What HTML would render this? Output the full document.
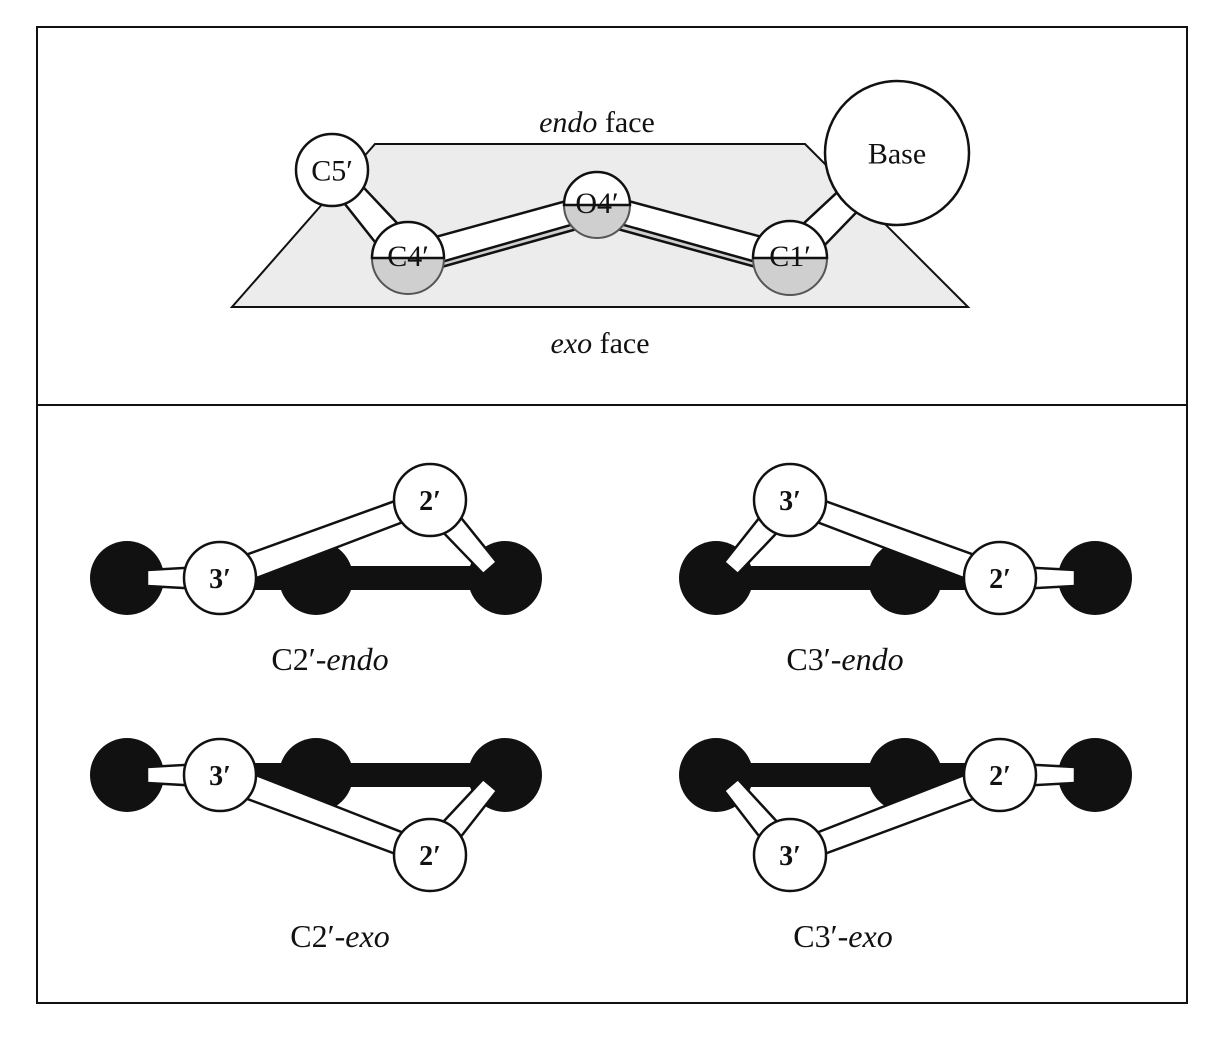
<!DOCTYPE html>
<html><head><meta charset="utf-8"><style>
html,body{margin:0;padding:0;background:#fff}
svg{display:block}
text{font-family:"Liberation Serif",serif;fill:#111}
</style></head><body>
<svg id="s" width="1215" height="1041" viewBox="0 0 1215 1041">
<rect x="37" y="27" width="1150" height="976" fill="#fff" stroke="#111" stroke-width="2"/>
<line x1="37" y1="405" x2="1187" y2="405" stroke="#111" stroke-width="2"/>
<polygon points="375,144 805,144 968,307 232,307" fill="#ececec" stroke="#111" stroke-width="2"/>
<text x="597" y="132" font-size="30" text-anchor="middle"><tspan font-style="italic">endo</tspan> face</text>
<text x="600" y="353" font-size="30" text-anchor="middle"><tspan font-style="italic">exo</tspan> face</text>
<g id="top"></g>
<g id="bottom"></g>
<text x="330" y="670" font-size="32" text-anchor="middle">C2′-<tspan font-style="italic">endo</tspan></text>
<text x="845" y="670" font-size="32" text-anchor="middle">C3′-<tspan font-style="italic">endo</tspan></text>
<text x="340" y="947" font-size="32" text-anchor="middle">C2′-<tspan font-style="italic">exo</tspan></text>
<text x="843" y="947" font-size="32" text-anchor="middle">C3′-<tspan font-style="italic">exo</tspan></text>
</svg>
<script>
const NS='http://www.w3.org/2000/svg';
function mk(tag,attrs,parent){const e=document.createElementNS(NS,tag);for(const k in attrs)e.setAttribute(k,attrs[k]);parent.appendChild(e);return e;}
function bond(p,a,b,wa,wb,fill,name){
  const dx=b[0]-a[0],dy=b[1]-a[1],L=Math.hypot(dx,dy),nx=-dy/L,ny=dx/L;
  const pts=[[a[0]+nx*wa,a[1]+ny*wa],[b[0]+nx*wb,b[1]+ny*wb],[b[0]-nx*wb,b[1]-ny*wb],[a[0]-nx*wa,a[1]-ny*wa]];
  const e=mk('polygon',{points:pts.map(q=>q.join(',')).join(' '),fill:fill,stroke:'#111','stroke-width':2.5},p);
  
  
}
function atom(p,c,r,fill,label,fs,bold,name){
  const e=mk('circle',{cx:c[0],cy:c[1],r:r,fill:fill,stroke:'#111','stroke-width':2.5},p);
  
  
  if(label){const t=mk('text',{x:c[0],y:c[1]+fs*0.35,'font-size':fs,'text-anchor':'middle','font-weight':bold?'bold':'normal'},p);t.textContent=label;
  
  }
}
function halfAtom(p,c,r,label,name){
  const g=mk('g',{},p);
  
  
  mk('path',{d:`M${c[0]-r},${c[1]} A${r},${r} 0 0 0 ${c[0]+r},${c[1]} Z`,fill:'#cfcfcf',stroke:'#555','stroke-width':2},g);
  mk('path',{d:`M${c[0]-r},${c[1]} A${r},${r} 0 0 1 ${c[0]+r},${c[1]} Z`,fill:'#fff',stroke:'#111','stroke-width':2.5},g);
  const t=mk('text',{x:c[0],y:c[1]+8,'font-size':30,'text-anchor':'middle'},g);t.textContent=label;
}
const T=document.getElementById('top');
const C5=[332,170],C4=[408,258],O4=[597,205],C1=[790,258],B=[897,153];
bond(T,[C4[0],C4[1]+8],[O4[0],O4[1]+8],10,10,'#cfcfcf','c4-o4-bond-shadow');
bond(T,[O4[0],O4[1]+8],[C1[0],C1[1]+8],10,10,'#cfcfcf','o4-c1-bond-shadow');
bond(T,C5,C4,11,16,'#fff','c5-c4-bond');
bond(T,C4,O4,13,12,'#fff','c4-o4-bond');
bond(T,O4,C1,12,13,'#fff','o4-c1-bond');
bond(T,B,C1,12,16,'#fff','base-c1-bond');
atom(T,C5,36,'#fff','C5′',30,false,'c5-atom');
halfAtom(T,O4,33,'O4′','o4-atom');
halfAtom(T,C4,36,'C4′','c4-atom');
halfAtom(T,C1,37,'C1′','c1-atom');
atom(T,B,72,'#fff','Base',30,false,'base-atom');
const BT=document.getElementById('bottom');
const panels=[
 {n:'c2-endo',k:[[127,578],[316,578],[505,578]],three:[220,578],two:[430,500],mode:'c2'},
 {n:'c3-endo',k:[[716,578],[905,578],[1095,578]],three:[790,500],two:[1000,578],mode:'c3'},
 {n:'c2-exo',k:[[127,775],[316,775],[505,775]],three:[220,775],two:[430,855],mode:'c2'},
 {n:'c3-exo',k:[[716,775],[905,775],[1095,775]],three:[790,855],two:[1000,775],mode:'c3'}];
panels.forEach(P=>{
  const g=mk('g',{},BT);
  
  
  const [a,m,c]=P.k;
  P.k.forEach((q,i)=>{const e=mk('circle',{cx:q[0],cy:q[1],r:37,fill:'#111'},g);
    
    });
  const bar=mk('rect',{x:(P.mode==='c2'?P.three[0]:a[0]),y:a[1]-12,width:(P.mode==='c2'?c[0]-P.three[0]:P.two[0]-a[0]),height:24,fill:'#111'},g);
  
  
  if(P.mode==='c2'){
    bond(g,[a[0]+20,a[1]],P.three,8,12,'#fff',P.n+'-outer-bond');
    bond(g,[c[0]-15,c[1]+(P.two[1]<c[1]?-10:10)],P.two,9,13,'#fff',P.n+'-c2-bond');
    bond(g,P.three,P.two,13,11,'#fff',P.n+'-c3-c2-bond');
  } else {
    bond(g,[c[0]-20,c[1]],P.two,8,12,'#fff',P.n+'-outer-bond');
    bond(g,[a[0]+15,a[1]+(P.three[1]<a[1]?-10:10)],P.three,9,13,'#fff',P.n+'-c3-bond');
    bond(g,P.two,P.three,13,11,'#fff',P.n+'-c2-c3-bond');
  }
  atom(g,P.three,36,'#fff','3′',28,true,P.n+'-c3-atom');
  atom(g,P.two,36,'#fff','2′',28,true,P.n+'-c2-atom');
});
</script>
</body></html>
